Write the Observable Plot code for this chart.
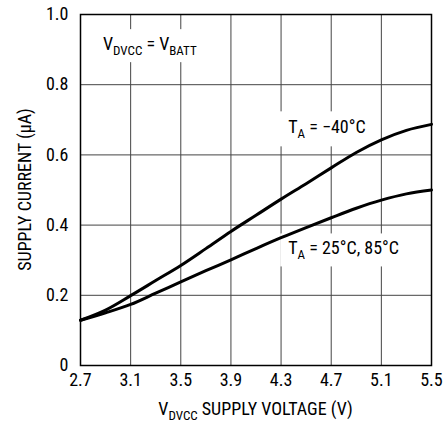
<!DOCTYPE html>
<html><head><meta charset="utf-8">
<script src="https://cdn.jsdelivr.net/npm/d3@7"></script>
<script src="https://cdn.jsdelivr.net/npm/@observablehq/plot@0.6"></script>
<style>body{margin:0;background:#fff}</style>
</head><body><div id="chart"></div>
<script>
// Supply voltage (V)
const voltage = [2.7, 2.9, 3.1, 3.3, 3.5, 3.7, 3.9, 4.1, 4.3, 4.5, 4.7, 4.9, 5.1, 5.3, 5.5];
// Supply current (µA), TA = -40°C
const currentMinus40 = [0.129, 0.158, 0.199, 0.242, 0.285, 0.333, 0.382, 0.428, 0.474, 0.518, 0.563, 0.607, 0.643, 0.670, 0.687];
// Supply current (µA), TA = 25°C, 85°C
const current25_85 = [0.129, 0.150, 0.174, 0.206, 0.238, 0.270, 0.301, 0.333, 0.364, 0.393, 0.421, 0.448, 0.471, 0.489, 0.500];
const xTicks = [2.7, 3.1, 3.5, 3.9, 4.3, 4.7, 5.1, 5.5];
const yTicks = [0, 0.2, 0.4, 0.6, 0.8, 1.0];

const rows = voltage.flatMap((v, k) => [
  {v, i: currentMinus40[k], s: "-40"},
  {v, i: current25_85[k], s: "25/85"}
]);

const FONT = '"Liberation Sans Narrow","Arial Narrow","Roboto Condensed",sans-serif';
const chart = Plot.plot({
  width: 443, height: 423,
  marginLeft: 80, marginRight: 12, marginTop: 14, marginBottom: 58,
  style: {fontFamily: FONT, fontSize: "18px", color: "#000", background: "#fff", overflow: "visible"},
  x: {domain: [2.7, 5.5]},
  y: {domain: [0, 1]},
  marks: [
    Plot.ruleX(xTicks, {stroke: "#444", strokeWidth: 1}),
    Plot.ruleY(yTicks, {stroke: "#444", strokeWidth: 1}),
    Plot.axisX(xTicks, {tickSize: 0, tickPadding: 8, tickFormat: d => d.toFixed(1), label: null}),
    Plot.axisY(yTicks, {tickSize: 0, tickPadding: 12, tickFormat: d => d === 0 ? "0" : d.toFixed(1), label: null}),
    Plot.line(rows, {x: "v", y: "i", z: "s", curve: "catmull-rom", stroke: "#000", strokeWidth: 3}),
    Plot.frame({stroke: "#000", strokeWidth: 1.5})
  ]
});
document.getElementById("chart").append(chart);

const sx = chart.scale("x"), sy = chart.scale("y");
const svg = d3.select(chart);
const layer = svg.insert("g", "g[aria-label='line']");

function label(parent, x, y, parts, opts = {}) {
  const g = parent.append("g");
  const t = g.append("text")
    .attr("x", x).attr("y", y)
    .attr("font-family", FONT).attr("font-size", 18).attr("fill", "#000")
    .attr("text-anchor", opts.anchor || "start");
  if (opts.rotate) t.attr("transform", `rotate(${opts.rotate},${x},${y})`);
  let shifted = false;
  for (const [txt, sub] of parts) {
    const ts = t.append("tspan").text(txt);
    if (sub && !shifted) { ts.attr("dy", 5).attr("font-size", 13); shifted = true; }
    else if (!sub && shifted) { ts.attr("dy", -5); shifted = false; }
    else if (sub) ts.attr("font-size", 13);
  }
  if (opts.bg) {
    const b = t.node().getBBox();
    g.insert("rect", "text")
      .attr("x", b.x - opts.bg[0]).attr("y", b.y - opts.bg[1])
      .attr("width", b.width + 2 * opts.bg[0]).attr("height", b.height + 2 * opts.bg[1])
      .attr("fill", "#fff");
  }
  return g;
}

// annotations (placed in data coordinates)
label(layer, sx.apply(2.883), sy.apply(0.897), [["V"], ["DVCC", true], [" = V"], ["BATT", true]], {bg: [8, 4]});
label(layer, sx.apply(4.361), sy.apply(0.660), [["T"], ["A", true], [" = −40°C"]], {bg: [10, 5]});
label(layer, sx.apply(4.361), sy.apply(0.315), [["T"], ["A", true], [" = 25°C, 85°C"]], {bg: [8, 4]});

// axis titles
label(svg, 31, (sy.apply(0) + sy.apply(1)) / 2, [["SUPPLY CURRENT (μA)"]], {anchor: "middle", rotate: -90});
label(svg, (sx.apply(2.7) + sx.apply(5.5)) / 2, 415, [["V"], ["DVCC", true], [" SUPPLY VOLTAGE (V)"]], {anchor: "middle"});
</script>
</body></html>
